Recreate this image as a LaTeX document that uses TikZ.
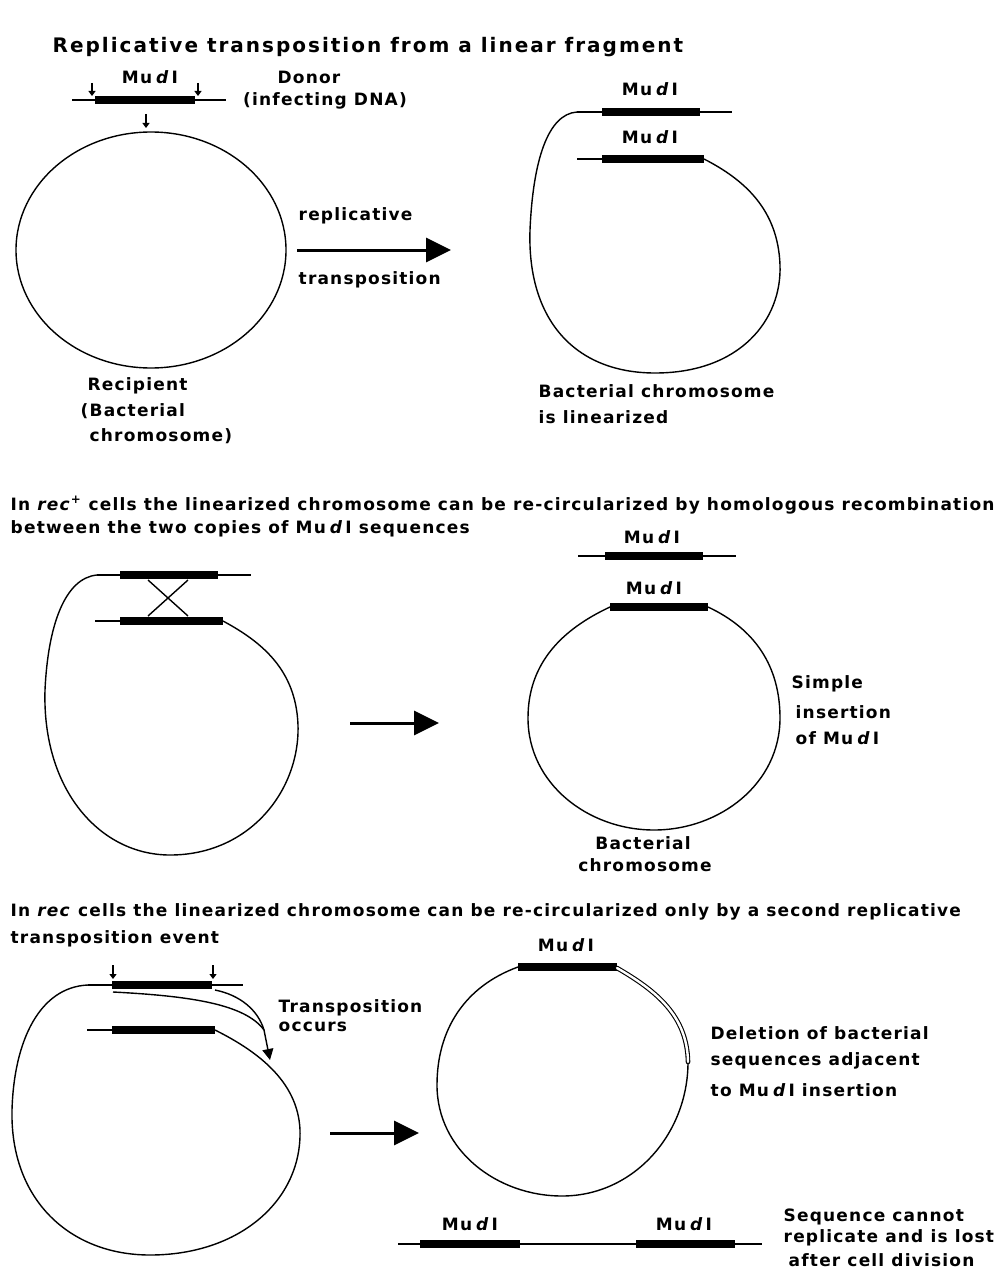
\documentclass[tikz,border=0pt]{standalone}
\usepackage{fontspec}
\setmainfont{DejaVu Sans}[LetterSpace=7]
\usetikzlibrary{arrows.meta}
\newcommand{\mud}{Mu\hspace{4pt}\textit{d}\hspace{2pt}I}
\newcommand{\rec}{\textit{rec}}

\begin{document}
\begin{tikzpicture}[x=1pt, y=-1pt, line width=1.4pt]
\useasboundingbox (0,0) rectangle (1001,1271);

\tikzset{every node/.style={font=\bfseries\fontsize{17}{20}\selectfont, inner sep=0pt}}
\tikzset{txt/.style={anchor=west}}
\tikzset{bar/.style={line width=8pt}}
\tikzset{bigarrow/.style={-{Triangle[length=25pt,width=24pt]}, line width=3pt}}
\tikzset{cutarrow/.style={-{Triangle[length=5pt,width=7pt]}, line width=1.2pt}}

% replicative transposition
\node[txt, font=\bfseries\fontsize{20}{24}\selectfont\addfontfeature{LetterSpace=10}] (title) at (52,47) {Replicative transposition from a linear fragment};

\coordinate (donorL) at (72,100);
\coordinate (donorR) at (226,100);
\draw (donorL) -- (donorR);
\draw[bar] (95,100) -- (195,100);
\node (mudonor) at (150,77) {\mud};
\draw[cutarrow] (92,83) -- (92,96);
\draw[cutarrow] (198,83) -- (198,96);
\draw[cutarrow] (146,114) -- (146,128);
\node (donor) at (309,77) {Donor};
\node (infect) at (325,101) {(infecting DNA)};

\draw (151,250) ellipse [x radius=135, y radius=118];
\node[txt] (recip1) at (87,386) {Recipient};
\node[txt] (recip2) at (80,411) {(Bacterial};
\node[txt] (recip3) at (89,436) {chromosome)};

\coordinate (arr1a) at (297,250);
\coordinate (arr1b) at (451,250);
\draw[bigarrow] (arr1a) -- (arr1b);
\node[txt] (repl) at (298,216) {replicative};
\node[txt] (transp) at (298,280) {transposition};

\node (muA) at (650,89) {\mud};
\node (muB) at (650,137) {\mud};
\draw (577,112) -- (732,112);
\draw[bar] (602,112) -- (700,112);
\draw (577,159) -- (704,159);
\draw[bar] (602,159) -- (704,159);
\draw (577,112) .. controls (548,114) and (533,160) .. (530,230)
  .. controls (527,320) and (575,373) .. (655,373)
  .. controls (740,373) and (782,320) .. (780,265)
  .. controls (778,210) and (745,180) .. (704,159);
\node[txt] (linA) at (538,391) {Bacterial chromosome};
\node[txt] (linB) at (538,417) {is linearized};

% rec+ cells
\node[txt] (recp1) at (10,505) {In \rec\textsuperscript{+} cells the linearized chromosome can be re-circularized by homologous recombination};
\node[txt] (recp2) at (10,529) {between the two copies of \mud\ sequences};

\draw (97,575) -- (251,575);
\draw[bar] (120,575) -- (218,575);
\draw (95,621) -- (223,621);
\draw[bar] (120,621) -- (223,621);
\draw (148,580) -- (188,616);
\draw (188,580) -- (148,616);
\draw (97,575) .. controls (65,578) and (48,625) .. (45,690)
  .. controls (42,790) and (100,855) .. (170,855)
  .. controls (250,855) and (300,790) .. (298,725)
  .. controls (296,670) and (262,642) .. (223,621);

\coordinate (arr2a) at (350,723);
\coordinate (arr2b) at (439,723);
\draw[bigarrow] (arr2a) -- (arr2b);

\node (muC) at (652,537) {\mud};
\draw (578,556) -- (736,556);
\draw[bar] (605,556) -- (703,556);
\node (muD) at (654,588) {\mud};
\draw[bar] (610,607) -- (708,607);
\draw (708,607) to[out=-25,in=90] (780,718) to[out=-90,in=0] (654,830)
  to[out=180,in=-90] (528,718) to[out=90,in=205] (610,607);
\node[txt] (simp1) at (791,684) {Simple};
\node[txt] (simp2) at (795,712) {insertion};
\node[txt] (simp3) at (795,738) {of \mud};
\node (chrA) at (643,843) {Bacterial};
\node (chrB) at (645,865) {chromosome};

% rec cells
\node[txt] (recm1) at (10,912) {In \rec\ cells the linearized chromosome can be re-circularized only by a second replicative};
\node[txt] (recm2) at (10,939) {transposition event};

\draw[cutarrow] (113,965) -- (113,979);
\draw[cutarrow] (213,965) -- (213,979);
\draw (88,985) -- (243,985);
\draw[bar] (112,985) -- (212,985);
\draw (87,1030) -- (215,1030);
\draw[bar] (112,1030) -- (215,1030);
\draw (88,985) .. controls (40,987) and (14,1040) .. (12,1110)
  .. controls (10,1200) and (70,1255) .. (150,1255)
  .. controls (240,1255) and (302,1200) .. (300,1130)
  .. controls (298,1080) and (255,1050) .. (215,1030);

\coordinate (tj) at (264,1030);
\coordinate (ttip) at (270,1060);
\draw (113,992) .. controls (190,996) and (245,1004) .. (tj);
\draw (215,990) .. controls (240,995) and (258,1010) .. (tj);
\draw[-{Triangle[length=11pt,width=11pt]}] (tj) -- (ttip);
\node[txt] (trA) at (278,1008) {Transposition};
\node[txt] (trB) at (278,1027) {occurs};

\coordinate (arr3a) at (330,1133);
\coordinate (arr3b) at (419,1133);
\draw[bigarrow] (arr3a) -- (arr3b);

\node (muE) at (566,945) {\mud};
\draw[bar] (518,967) -- (617,967);
\draw (688,1062) to[out=-90,in=0] (562,1196) to[out=180,in=-90] (437,1085)
  to[out=90,in=200] (518,967);
\draw[double=white, double distance=2.4pt, line width=1.1pt, line cap=round] (617,968) to[out=-30,in=91] (688,1062);
\node[txt] (delA) at (710,1033) {Deletion of bacterial};
\node[txt] (delB) at (710,1061) {sequences adjacent};
\node[txt] (delC) at (710,1090) {to \mud\ insertion};

\coordinate (linL) at (398,1244);
\coordinate (linR) at (762,1244);
\draw (linL) -- (linR);
\draw[bar] (420,1244) -- (520,1244);
\draw[bar] (636,1244) -- (735,1244);
\node (muF) at (470,1224) {\mud};
\node (muG) at (684,1224) {\mud};
\node[txt] (seqA) at (783,1217) {Sequence cannot};
\node[txt] (seqB) at (783,1238) {replicate and is lost};
\node[txt] (seqC) at (788,1260) {after cell division};
\end{tikzpicture}
\end{document}
